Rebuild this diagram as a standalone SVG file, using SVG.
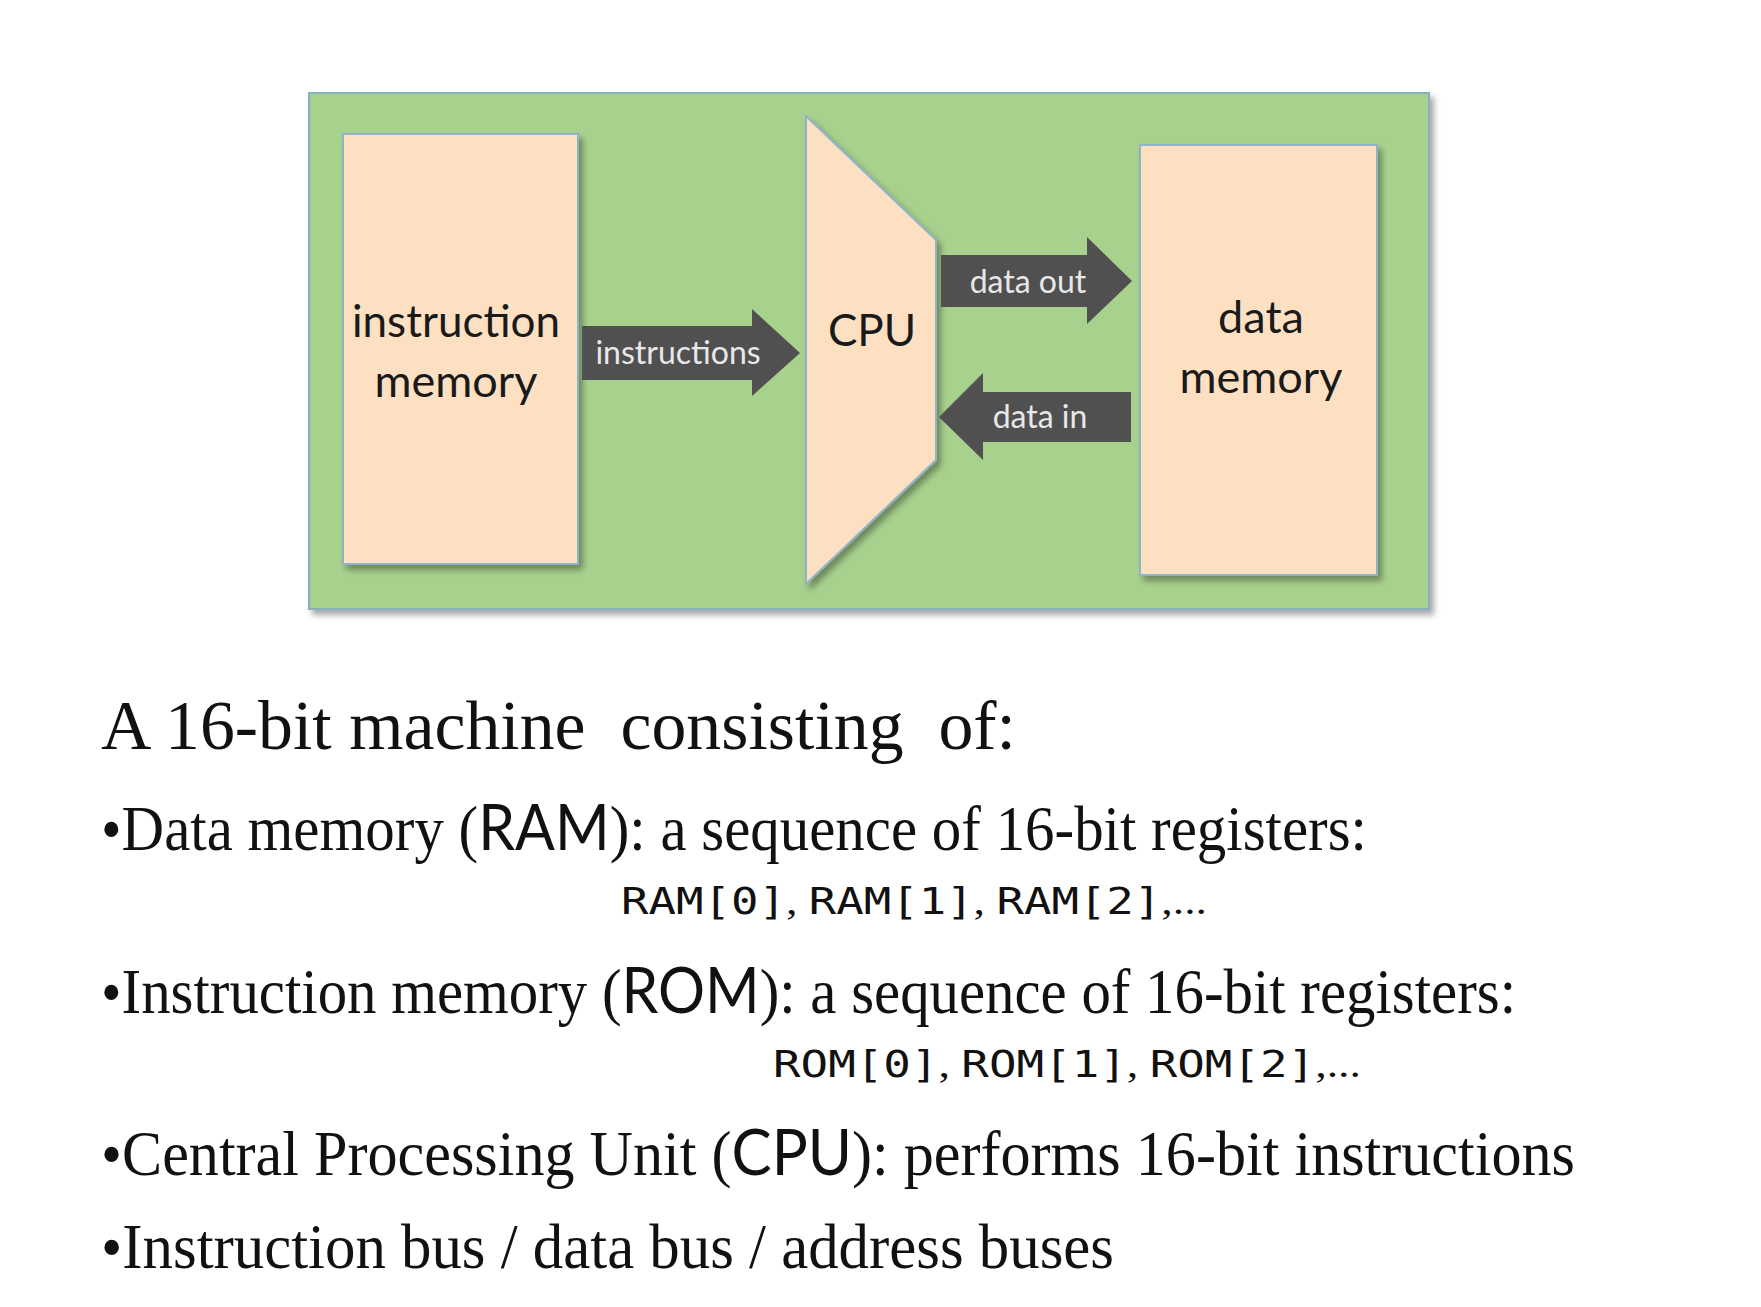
<svg xmlns="http://www.w3.org/2000/svg" width="1761" height="1307" viewBox="0 0 1761 1307">
<defs>
<filter id="sh" x="-10%" y="-10%" width="130%" height="130%">
<feDropShadow dx="4" dy="5" stdDeviation="3" flood-color="#000" flood-opacity="0.35"/>
</filter>
<style>
.box{fill:#fde0c2;stroke:#8fb4c8;stroke-width:2}
.lbl{font-family:Lato,"Open Sans",sans-serif;fill:#1a1a1a;text-anchor:middle}
.alb{font-family:Lato,"Open Sans",sans-serif;fill:#e8e8e8;text-anchor:middle;font-size:32px}
.arr{fill:#505050}
.ser{font-family:"Liberation Serif","Times New Roman",serif;fill:#111}
.sans{font-family:Lato,"Open Sans",sans-serif}
.mono{font-family:"DejaVu Sans Mono","Liberation Mono",monospace}
</style>
</defs>
<rect width="1761" height="1307" fill="#ffffff"/>
<g id="board">
<rect x="309" y="93" width="1120" height="516" fill="#a9d18e" stroke="#86b0bc" stroke-width="2" filter="url(#sh)"/>
</g>
<g id="instruction-memory">
<rect class="box" x="343" y="134" width="235" height="430" filter="url(#sh)"/>
<text class="lbl" x="456" y="337" font-size="45" textLength="208" lengthAdjust="spacingAndGlyphs">instruction</text>
<text class="lbl" x="456" y="397" font-size="45">memory</text>
</g>
<g id="cpu">
<polygon class="box" points="806,116 936,240 936,460 806,584" filter="url(#sh)"/>
<text class="lbl" x="872" y="346" font-size="44">CPU</text>
</g>
<g id="data-memory">
<rect class="box" x="1140" y="145" width="237" height="430" filter="url(#sh)"/>
<text class="lbl" x="1261" y="333" font-size="45">data</text>
<text class="lbl" x="1261" y="393" font-size="45">memory</text>
</g>
<g id="connectors">
<g id="instructions-arrow">
<polygon class="arr" points="582,326 752,326 752,309 800,353 752,396 752,380 582,380"/>
<text class="alb" x="678" y="364">instructions</text>
</g>
<g id="data-out-arrow">
<polygon class="arr" points="941,255 1087,255 1087,237 1132,281 1087,324 1087,307 941,307"/>
<text class="alb" x="1028" y="293">data out</text>
</g>
<g id="data-in-arrow">
<polygon class="arr" points="1131,392 983,392 983,373 939,417 983,460 983,442 1131,442"/>
<text class="alb" x="1040" y="428">data in</text>
</g>
</g>
<g id="text">
<text class="ser" x="101" y="749" font-size="70" textLength="915" lengthAdjust="spacingAndGlyphs" xml:space="preserve">A 16-bit machine  consisting  of:</text>
<text class="ser" x="101" y="850" font-size="63" textLength="1266" lengthAdjust="spacingAndGlyphs">•Data memory (<tspan class="sans">RAM</tspan>): a sequence of 16-bit registers:</text>
<text class="ser" x="621" y="914" font-size="38" textLength="586" lengthAdjust="spacingAndGlyphs"><tspan class="mono">RAM[0]</tspan>, <tspan class="mono">RAM[1]</tspan>, <tspan class="mono">RAM[2]</tspan>,...</text>
<text class="ser" x="101" y="1013" font-size="63" textLength="1415" lengthAdjust="spacingAndGlyphs">•Instruction memory (<tspan class="sans">ROM</tspan>): a sequence of 16-bit registers:</text>
<text class="ser" x="773" y="1077" font-size="38" textLength="588" lengthAdjust="spacingAndGlyphs"><tspan class="mono">ROM[0]</tspan>, <tspan class="mono">ROM[1]</tspan>, <tspan class="mono">ROM[2]</tspan>,...</text>
<text class="ser" x="101" y="1175" font-size="63" textLength="1474" lengthAdjust="spacingAndGlyphs">•Central Processing Unit (<tspan class="sans">CPU</tspan>): performs 16-bit instructions</text>
<text class="ser" x="101" y="1268" font-size="63" textLength="1013" lengthAdjust="spacingAndGlyphs">•Instruction bus / data bus / address buses</text>
</g>
</svg>
